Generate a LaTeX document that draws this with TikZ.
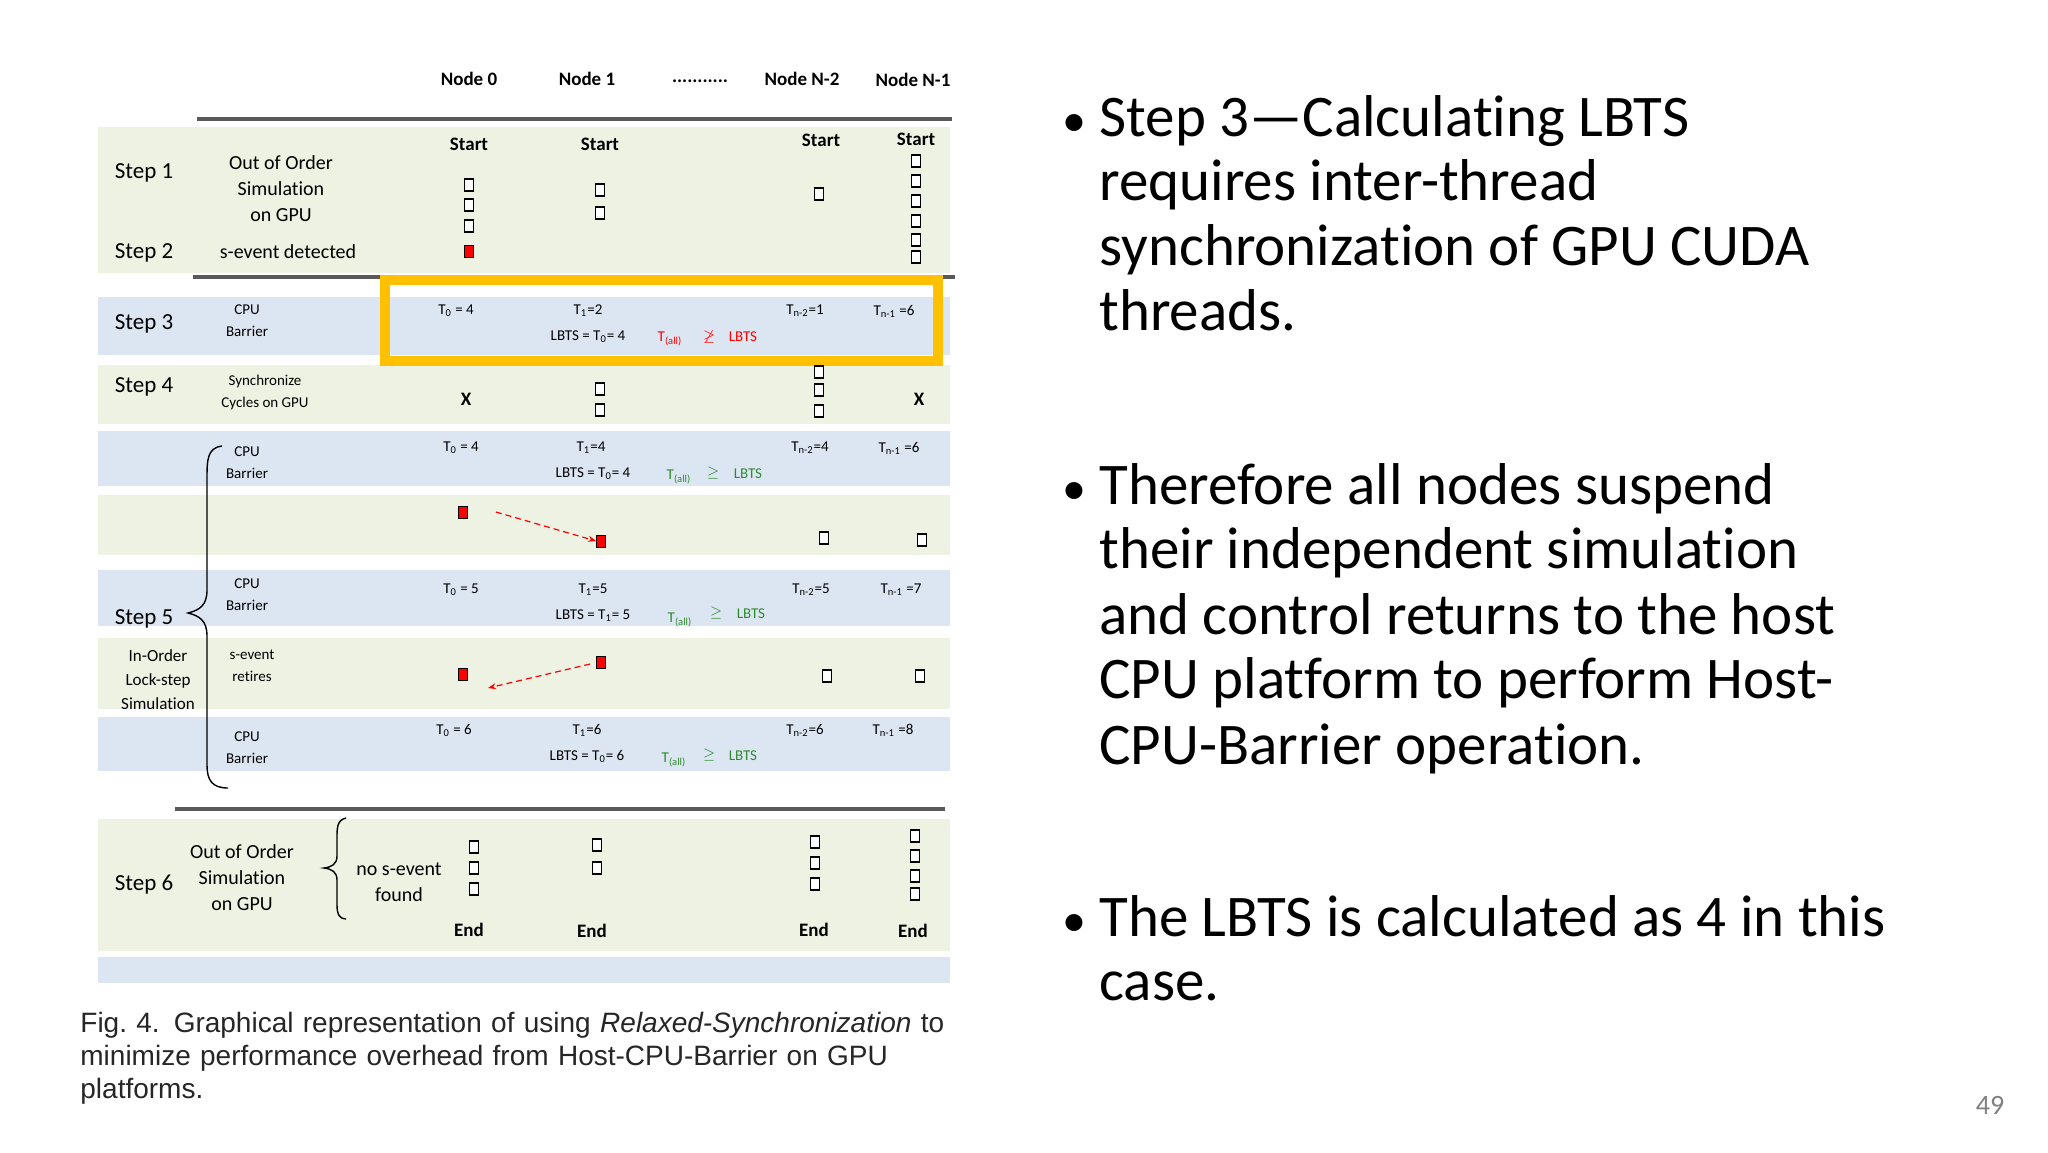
\documentclass[tikz,border=0pt]{standalone}
\usepackage{fontspec}
\usepackage{amssymb}
\setmainfont{Carlito}[Ligatures={NoCommon}]
\newfontfamily\capfont{Liberation Sans}
\usetikzlibrary{arrows.meta}
\definecolor{bgreen}{HTML}{EEF2E2}
\definecolor{bblue}{HTML}{DCE6F2}
\definecolor{ygold}{HTML}{FFC000}
\definecolor{dgreen}{HTML}{2E8B2E}
\begin{document}
\begin{tikzpicture}[x=0.5pt,y=-0.5pt,
  sbox/.style={draw=black,line width=0.6pt,fill=white,minimum width=4.5pt,minimum height=6pt,inner sep=0pt},
  rbox/.style={draw=black,line width=0.4pt,fill=red,minimum width=4.5pt,minimum height=6pt,inner sep=0pt},
  steplbl/.style={font=\fontsize{11.5}{13}\selectfont,inner sep=0pt},
  mid/.style={font=\fontsize{10}{12}\selectfont,align=center,inner sep=0pt},
  tiny/.style={font=\fontsize{7.5}{9}\selectfont,inner sep=0pt},
  hdr/.style={font=\bfseries\fontsize{9.5}{11}\selectfont,inner sep=0pt},
  bul/.style={anchor=base west,font=\fontsize{29.5}{34}\selectfont,inner sep=0pt},
  gline/.style={draw=gray!70!black,line width=1.6pt}]
\useasboundingbox (0,0) rectangle (2048,1152);
\fill[white] (0,0) rectangle (2048,1152);
% bands
\fill[bgreen] (98,127) rectangle (950,273);
\fill[bblue] (98,297) rectangle (950,355);
\fill[bgreen] (98,365) rectangle (950,424);
\fill[bblue] (98,431) rectangle (950,486);
\fill[bgreen] (98,495) rectangle (950,555);
\fill[bblue] (98,570) rectangle (950,626);
\fill[bgreen] (98,638) rectangle (950,709);
\fill[bblue] (98,717) rectangle (950,771);
\fill[bgreen] (98,819) rectangle (950,951);
\fill[bblue] (98,957) rectangle (950,983);
\draw[gline] (197,119) -- (952,119);
\draw[gline] (193,277) -- (955,277);
\draw[gline] (175,809) -- (945,809);
\draw[ygold,line width=5pt] (385,280) rectangle (938,361);
% header
\node[hdr] (h0) at (469,79) {Node 0};
\node[hdr] (h1) at (587,79) {Node 1};
\node[hdr] (hd) at (700,81) {...........};
\node[hdr] (h2) at (802,79) {Node N-2};
\node[hdr] (h3) at (913,80) {Node N-1};
% step 1/2
\node[steplbl] (s1) at (144,173) {Step 1};
\node[mid] (oos) at (281,189) {Out of Order\\[1pt]Simulation\\[1pt]on GPU};
\node[steplbl] (s2) at (144,253) {Step 2};
\node[mid] (sed) at (288,252) {s-event detected};
\node[hdr] (st0) at (469,144) {Start};
\node[hdr] (st1) at (600,144) {Start};
\node[hdr] (st2) at (821,140) {Start};
\node[hdr] (st3) at (916,139) {Start};
\foreach \y [count=\i] in {185,205,226}{\node[sbox] (a0\i) at (469,\y) {};}
\node[rbox] (a0r) at (469,251) {};
\foreach \y [count=\i] in {190,213}{\node[sbox] (a1\i) at (600,\y) {};}
\node[sbox] (a2) at (819,194) {};
\foreach \y [count=\i] in {161,181,201,221,240,257}{\node[sbox] (a3\i) at (916,\y) {};}
% step 3
\node[steplbl] (s3) at (144,324) {Step 3};
\node[tiny,align=center] (c3) at (247,321) {CPU\\[2pt]Barrier};
\node[tiny] (t30) at (456,311) {T\textsubscript{0} = 4};
\node[tiny] (t31) at (588,311) {T\textsubscript{1}=2};
\node[tiny] (t32) at (805,311) {T\textsubscript{n-2}=1};
\node[tiny] (t33) at (894,311) {T\textsubscript{n-1} =6};
\node[tiny] (l3) at (588,337) {LBTS = T\textsubscript{0}= 4};
\node[tiny,text=red] (ta3) at (670,339) {T\textsubscript{(all)}};
\node[tiny,text=red] (ge3) at (709,337) {$\not\geq$};
\node[tiny,text=red] (lb3) at (743,337) {LBTS};
% step 4
\node[steplbl] (s4) at (144,387) {Step 4};
\node[tiny,align=center] (c4) at (265,392) {Synchronize\\[2pt]Cycles on GPU};
\node[hdr] (x0) at (466,399) {X};
\node[sbox] (b11) at (600,389) {};
\node[sbox] (b12) at (600,410) {};
\foreach \y [count=\i] in {372,390,411}{\node[sbox] (b2\i) at (819,\y) {};}
\node[hdr] (x3) at (919,399) {X};
% step 5a
\node[tiny,align=center] (c5a) at (247,463) {CPU\\[2pt]Barrier};
\node[tiny] (t50) at (461,448) {T\textsubscript{0} = 4};
\node[tiny] (t51) at (591,448) {T\textsubscript{1}=4};
\node[tiny] (t52) at (810,448) {T\textsubscript{n-2}=4};
\node[tiny] (t53) at (899,448) {T\textsubscript{n-1} =6};
\node[tiny] (l5a) at (593,474) {LBTS = T\textsubscript{0}= 4};
\node[tiny,text=dgreen] (ta5a) at (679,477) {T\textsubscript{(all)}};
\node[tiny,text=dgreen] (ge5a) at (713,473) {$\geq$};
\node[tiny,text=dgreen] (lb5a) at (748,474) {LBTS};
% 5b
\node[rbox] (r1) at (463,512) {};
\node[rbox] (r2) at (601,541) {};
\node[sbox] (e2) at (824,538) {};
\node[sbox] (e3) at (922,540) {};
\draw[red,densely dashed,line width=0.6pt,-{Stealth[length=4pt]}] ([xshift=14pt]r1.east) -- (r2.west);
% 5c
\node[tiny,align=center] (c5c) at (247,595) {CPU\\[2pt]Barrier};
\node[tiny] (t60) at (461,590) {T\textsubscript{0} = 5};
\node[tiny] (t61) at (593,590) {T\textsubscript{1}=5};
\node[tiny] (t62) at (811,590) {T\textsubscript{n-2}=5};
\node[tiny] (t63) at (901,590) {T\textsubscript{n-1} =7};
\node[tiny] (l5c) at (593,616) {LBTS = T\textsubscript{1}= 5};
\node[tiny,text=dgreen] (ta5c) at (680,620) {T\textsubscript{(all)}};
\node[tiny,text=dgreen] (ge5c) at (716,613) {$\geq$};
\node[tiny,text=dgreen] (lb5c) at (751,614) {LBTS};
\node[steplbl] (s5) at (144,619) {Step 5};
\draw[line width=0.7pt] (222,446) .. controls (207,448) and (207,460) .. (207,480) -- (207,590)
  .. controls (207,605) and (200,610) .. (188,613) .. controls (200,616) and (207,621) .. (207,636)
  -- (207,765) .. controls (207,780) and (212,788) .. (228,788);
% 5d
\node[tiny,align=center,font=\fontsize{8.5}{10}\selectfont] (ino) at (158,680) {In-Order\\[2pt]Lock-step\\[2pt]Simulation};
\node[tiny,align=center] (sev) at (252,666) {s-event\\[2pt]retires};
\node[rbox] (r3) at (463,674) {};
\node[rbox] (r4) at (601,662) {};
\node[sbox] (f2) at (827,676) {};
\node[sbox] (f3) at (920,676) {};
\coordinate (r3t) at (488,688);
\draw[red,densely dashed,line width=0.6pt,-{Stealth[length=4pt]}] ([xshift=-3pt,yshift=-1pt]r4.west) -- (r3t);
% 5e
\node[tiny,align=center] (c5e) at (247,748) {CPU\\[2pt]Barrier};
\node[tiny] (t70) at (454,730) {T\textsubscript{0} = 6};
\node[tiny] (t71) at (587,730) {T\textsubscript{1}=6};
\node[tiny] (t72) at (805,730) {T\textsubscript{n-2}=6};
\node[tiny] (t73) at (893,730) {T\textsubscript{n-1} =8};
\node[tiny] (l5e) at (587,756) {LBTS = T\textsubscript{0}= 6};
\node[tiny,text=dgreen] (ta5e) at (674,760) {T\textsubscript{(all)}};
\node[tiny,text=dgreen] (ge5e) at (709,755) {$\geq$};
\node[tiny,text=dgreen] (lb5e) at (743,756) {LBTS};
% step 6
\node[steplbl] (s6) at (144,885) {Step 6};
\node[mid] (oos6) at (242,878) {Out of Order\\[1pt]Simulation\\[1pt]on GPU};
\draw[line width=0.7pt] (346,818) .. controls (337,820) and (337,828) .. (337,838) -- (337,856)
  .. controls (337,864) and (332,867) .. (324,868) .. controls (332,869) and (337,872) .. (337,880)
  -- (337,905) .. controls (337,915) and (340,919) .. (346,919);
\node[mid] (nsf) at (399,882) {no s-event\\[1pt]found};
\foreach \y [count=\i] in {847,868,889}{\node[sbox] (g0\i) at (474,\y) {};}
\foreach \y [count=\i] in {845,868}{\node[sbox] (g1\i) at (597,\y) {};}
\foreach \y [count=\i] in {842,863,884}{\node[sbox] (g2\i) at (815,\y) {};}
\foreach \y [count=\i] in {836,856,876,894}{\node[sbox] (g3\i) at (915,\y) {};}
\node[hdr] (en0) at (469,930) {End};
\node[hdr] (en1) at (592,931) {End};
\node[hdr] (en2) at (814,930) {End};
\node[hdr] (en3) at (913,931) {End};
% caption
\node[anchor=north west,inner sep=0pt,text width=447pt,
  font=\capfont\fontsize{14}{16.4}\selectfont,text=black!85] (cap) at (80,1012)
  {Fig.\ 4. Graphical representation of using \textit{Relaxed-Synchronization} to\linebreak minimize performance overhead from Host-CPU-Barrier on GPU\linebreak platforms.};
% bullets
\foreach \y in {136,504,936}{\node[bul,font=\fontsize{24}{28}\selectfont] at (1062,\y) {•};}
\node[bul] (p1) at (1099,136) {Step 3—Calculating LBTS};
\node[bul] at (1099,200) {requires inter-thread};
\node[bul] at (1099,265) {synchronization of GPU CUDA};
\node[bul] at (1099,330) {threads.};
\node[bul] (p2) at (1099,504) {Therefore all nodes suspend};
\node[bul] at (1099,568) {their independent simulation};
\node[bul] at (1099,634) {and control returns to the host};
\node[bul] at (1099,698) {CPU platform to perform Host-};
\node[bul] at (1099,764) {CPU-Barrier operation.};
\node[bul] (p3) at (1099,936) {The LBTS is calculated as 4 in this};
\node[bul] at (1099,1000) {case.};
\node[font=\fontsize{14}{16}\selectfont,text=gray,inner sep=0pt] (pg) at (1990,1105) {49};
\end{tikzpicture}
\end{document}
